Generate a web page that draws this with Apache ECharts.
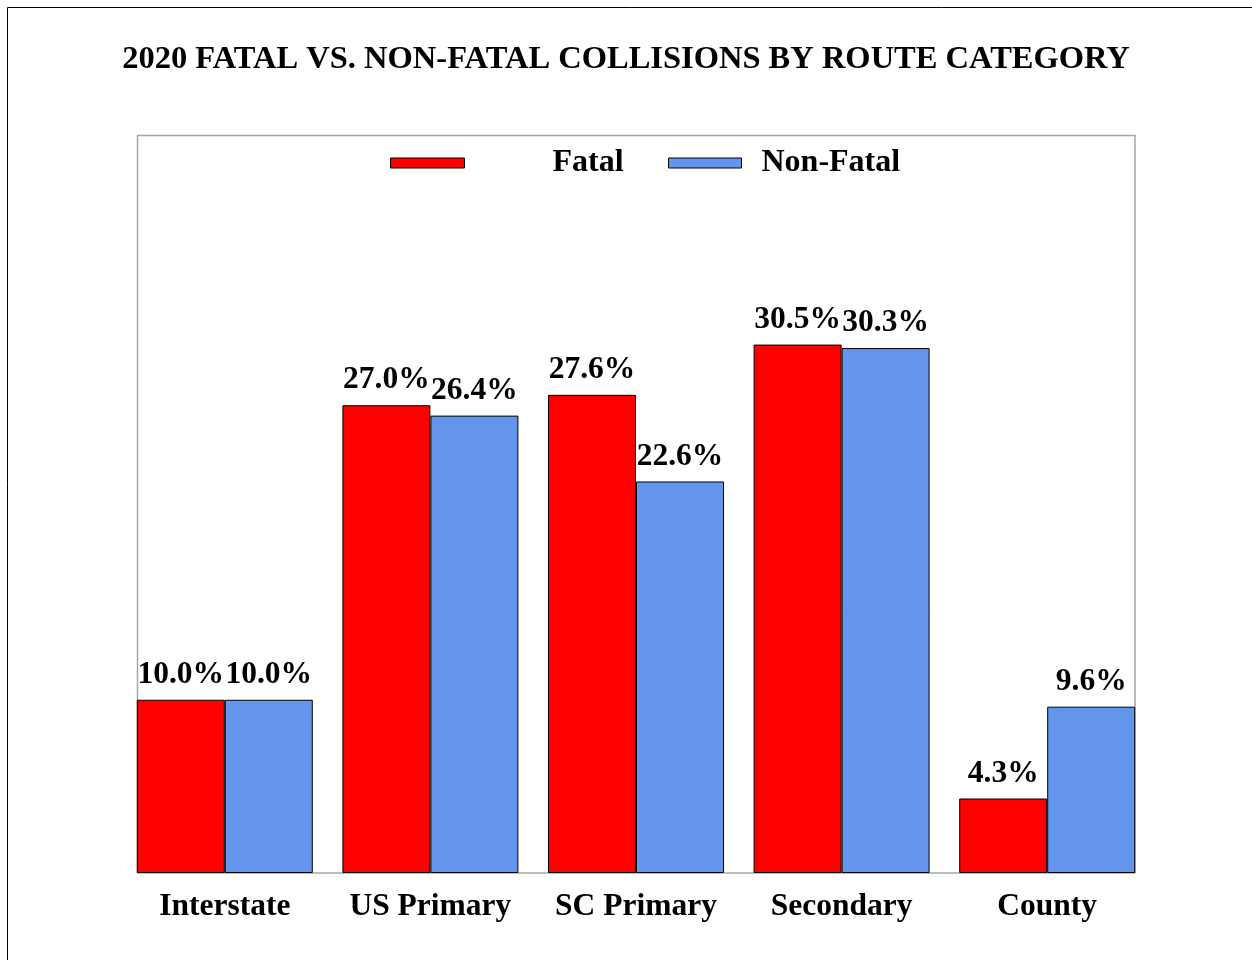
<!DOCTYPE html>
<html><head><meta charset="utf-8">
<script src="https://cdn.jsdelivr.net/npm/echarts@6/dist/echarts.min.js"></script>
<style>html,body{margin:0;padding:0;background:#fff}#c{width:1252px;height:960px}</style>
</head><body><div id="c"></div>
<script>
const categories = ['Interstate', 'US Primary', 'SC Primary', 'Secondary', 'County'];
const fatal = [10.0, 27.0, 27.6, 30.5, 4.3];
const nonFatal = [10.0, 26.4, 22.6, 30.3, 9.6];
const titleText = '2020 FATAL VS. NON-FATAL COLLISIONS BY ROUTE CATEGORY';

const FONT = '"Liberation Serif", "Times New Roman", serif';
const chart = echarts.init(document.getElementById('c'));
const labelCfg = {
  show: true, position: 'top', distance: 9,
  formatter: p => p.value.toFixed(1) + '%',
  fontFamily: FONT, fontWeight: 'bold', fontSize: 31.5, color: '#000'
};
chart.setOption({
  animation: false,
  title: {
    text: titleText, left: 'center', top: 38,
    textStyle: { fontFamily: FONT, fontWeight: 'bold', fontSize: 32.5, color: '#000' }
  },
  legend: [
    { data: ['Fatal'], left: 385, top: 142, itemWidth: 74, itemHeight: 10,
      icon: 'rect', itemStyle: { borderColor: '#000', borderWidth: 1 },
      textStyle: { fontFamily: FONT, fontWeight: 'bold', fontSize: 32, color: '#000', padding: [0, 0, 6, 83] } },
    { data: ['Non-Fatal'], left: 663, top: 142, itemWidth: 73, itemHeight: 10,
      icon: 'rect', itemStyle: { borderColor: '#000', borderWidth: 1 },
      textStyle: { fontFamily: FONT, fontWeight: 'bold', fontSize: 32, color: '#000', padding: [0, 0, 6, 15] } }
  ],
  grid: { left: 122, right: 102, top: 180, bottom: 87 },
  xAxis: {
    type: 'category', data: categories,
    axisLine: { show: false },
    axisTick: { show: false },
    axisLabel: { interval: 0, hideOverlap: false, fontFamily: FONT, fontWeight: 'bold', fontSize: 31.5, color: '#000', margin: 18 }
  },
  yAxis: { type: 'value', min: 0, max: 40, show: false, splitLine: { show: false } },
  graphic: [
    { type: 'rect', z: -10, shape: { x: 7.5, y: 7.5, width: 1400, height: 1100 },
      style: { fill: 'none', stroke: '#000', lineWidth: 1 } },
    { type: 'rect', z: -5, shape: { x: 137.5, y: 135.5, width: 997.5, height: 737.5 },
      style: { fill: 'none', stroke: '#a6a6a6', lineWidth: 1.5 } }
  ],
  series: [
    { name: 'Fatal', type: 'bar', data: fatal, barGap: '0%', barCategoryGap: '14.4%',
      itemStyle: { color: '#ff0000', borderColor: '#000', borderWidth: 1 }, label: labelCfg },
    { name: 'Non-Fatal', type: 'bar', data: nonFatal,
      itemStyle: { color: '#6495ed', borderColor: '#000', borderWidth: 1 }, label: labelCfg }
  ]
});
</script></body></html>
